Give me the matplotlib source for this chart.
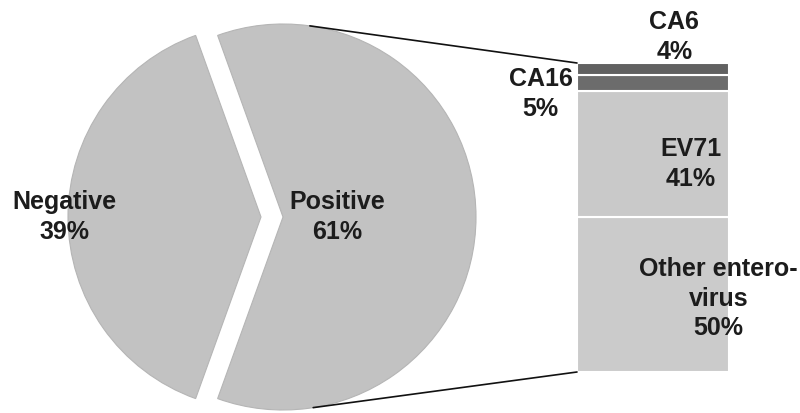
import numpy as np
import matplotlib.pyplot as plt
from matplotlib.patches import ConnectionPatch

plt.rcParams['font.family'] = ['Liberation Sans', 'DejaVu Sans']

# pie data
pie_labels = ['Negative', 'Positive']
pie_values = [39, 61]

# bar-of-pie data, stacked bottom to top
bar_labels = ['Other entero-\nvirus', 'EV71', 'CA16', 'CA6']
bar_values = [50, 41, 5, 4]

pie_colors = ['#c2c2c2', '#c2c2c2']
bar_colors = ['#cbcbcb', '#c9c9c9', '#6c6c6c', '#616161']

fig = plt.figure(figsize=(8, 4.13), dpi=100)

# main axes in pixel-like units (y up)
ax = fig.add_axes([0, 0, 1, 1])
center = (283, 196)
radius = 193
start = 180 - pie_values[0] * 360 / 100 / 2
# explode is in data units here (radius is in pixels)
wedges, _ = ax.pie(pie_values, colors=pie_colors, startangle=start,
                   explode=[22, 0], center=center, radius=radius, frame=True,
                   wedgeprops=dict(edgecolor='#b5b5b5', linewidth=0.8))
ax.set_xlim(0, 800)
ax.set_ylim(0, 413)
ax.set_aspect('equal')
ax.axis('off')

txt = dict(ha='center', va='center', fontsize=18, fontweight='bold',
           color='#1c1c1c', linespacing=1.3)
ax.text(64, 196, f"{pie_labels[0]}\n{pie_values[0]}%", **txt)
ax.text(337, 196, f"{pie_labels[1]}\n{pie_values[1]}%", **txt)

# stacked bar
bx = fig.add_axes([577 / 800, 41 / 413, 152 / 800, 309 / 413])
bottom = 0
for lab, val, col in zip(bar_labels, bar_values, bar_colors):
    bx.bar(0, val, width=1, bottom=bottom, color=col, edgecolor='white', linewidth=1.5)
    bottom += val
bx.set_xlim(-0.5, 0.5)
bx.set_ylim(0, 100)
bx.axis('off')

bx.text(0.43, 23.7, f"{bar_labels[0]}\n{bar_values[0]}%", **txt)
bx.text(0.25, 67.3, f"{bar_labels[1]}\n{bar_values[1]}%", **txt)
bx.text(-0.74, 90, f"{bar_labels[2]}\n{bar_values[2]}%", **txt, clip_on=False)
bx.text(0.14, 108.5, f"{bar_labels[3]}\n{bar_values[3]}%", **txt, clip_on=False)

# connector lines from the pie rim to the bar corners
for ang, yb in [(82, 100), (-81, 0)]:
    px = center[0] + radius * np.cos(np.radians(ang))
    py = center[1] + radius * np.sin(np.radians(ang))
    con = ConnectionPatch(xyA=(-0.5, yb), coordsA=bx.transData,
                          xyB=(px, py), coordsB=ax.transData,
                          color='#111111', linewidth=1.2)
    fig.add_artist(con)

fig.savefig('out.png', dpi=100)
